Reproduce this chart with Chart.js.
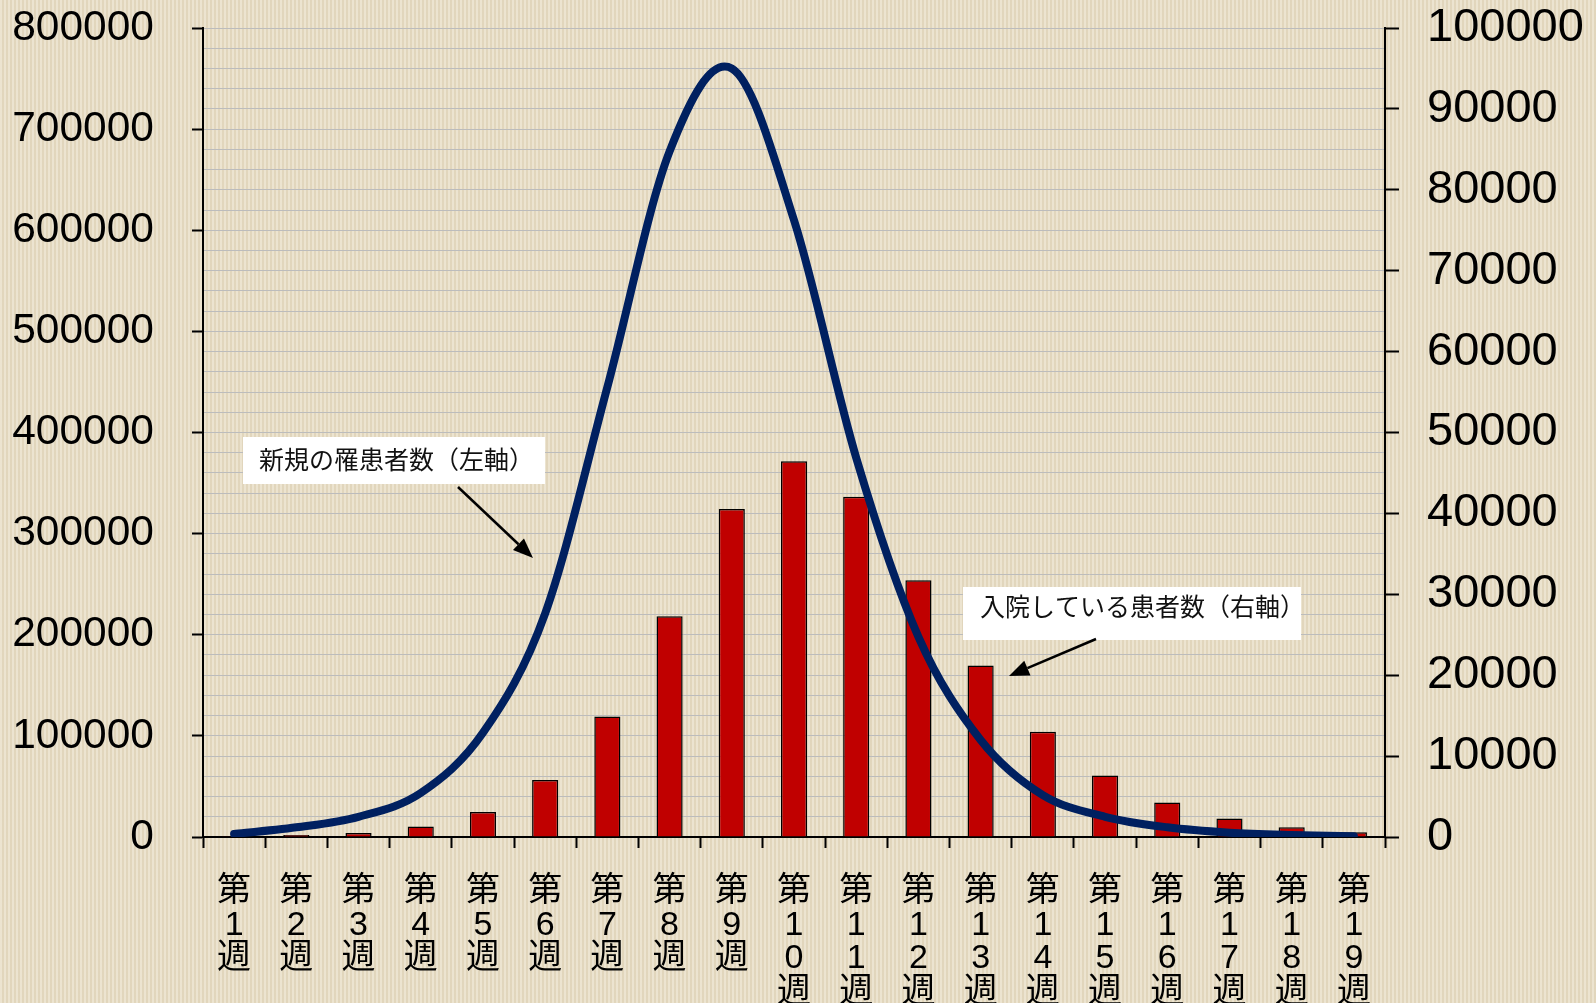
<!DOCTYPE html>
<html lang="ja">
<head>
<meta charset="utf-8">
<title>週別 新規罹患者数と入院患者数</title>
<script src="https://cdn.jsdelivr.net/npm/chart.js@4.4.1/dist/chart.umd.min.js"></script>
<style>
  html, body { margin: 0; padding: 0; }
  body {
    width: 1596px; height: 1003px; overflow: hidden;
    background-color: #e7dcc3;
    background-image:
      repeating-linear-gradient(90deg, rgba(255,255,255,0.22) 0 2px, rgba(120,100,60,0.05) 2px 4px);
  }
  canvas { display: block; }
</style>
</head>
<body>
<canvas id="chart" width="1596" height="1003"></canvas>
<script>
// Week categories
const weeks = ['第1週','第2週','第3週','第4週','第5週','第6週','第7週','第8週','第9週','第10週',
               '第11週','第12週','第13週','第14週','第15週','第16週','第17週','第18週','第19週'];

// New cases per week (left axis)
const newCases = [3000, 9600, 20000, 43500, 103000, 221000, 445000, 678000, 760000, 610000,
                  375000, 198000, 96000, 41500, 20000, 9600, 4300, 2000, 800];

// Hospitalised patients per week (right axis)
const hospitalized = [100, 250, 500, 1300, 3100, 7050, 14900, 27300, 40550, 46450,
                      42050, 31750, 21200, 13000, 7600, 4250, 2300, 1200, 600];

// Axis ranges and tick steps
const leftMax = 800000, leftLabelStep = 100000, leftGridStep = 20000;
const rightMax = 100000, rightStep = 10000;

// Callout labels with their leader arrows
const callouts = [
  { text: '新規の罹患者数（左軸）', box: [243, 437, 302, 47], textAt: [259, 459],
    from: [458, 487], to: [533, 558] },
  { text: '入院している患者数（右軸）', box: [963, 587, 338, 53], textAt: [980, 606],
    from: [1096, 639], to: [1009, 676] }
];

const calloutPlugin = {
  id: 'callouts',
  afterDatasetsDraw(chart) {
    const ctx = chart.ctx;
    callouts.forEach(c => {
      ctx.save();
      ctx.fillStyle = '#ffffff';
      ctx.fillRect(c.box[0], c.box[1], c.box[2], c.box[3]);
      ctx.fillStyle = '#111111';
      ctx.font = '25px "Noto Sans CJK JP", "Noto Sans", sans-serif';
      ctx.textBaseline = 'middle';
      ctx.textAlign = 'left';
      ctx.fillText(c.text, c.textAt[0], c.textAt[1]);

      const [x0, y0] = c.from, [x1, y1] = c.to;
      const ang = Math.atan2(y1 - y0, x1 - x0);
      const headLen = 20, headHalf = 8;
      const bx = x1 - headLen * Math.cos(ang), by = y1 - headLen * Math.sin(ang);
      ctx.strokeStyle = '#000';
      ctx.lineWidth = 2.5;
      ctx.beginPath();
      ctx.moveTo(x0, y0);
      ctx.lineTo(bx, by);
      ctx.stroke();
      ctx.fillStyle = '#000';
      ctx.beginPath();
      ctx.moveTo(x1, y1);
      ctx.lineTo(bx + headHalf * Math.sin(ang), by - headHalf * Math.cos(ang));
      ctx.lineTo(bx - headHalf * Math.sin(ang), by + headHalf * Math.cos(ang));
      ctx.closePath();
      ctx.fill();
      ctx.restore();
    });
  }
};

// Uniform Catmull-Rom style smoothing: each bezier handle is one sixth of the
// neighbour-to-neighbour span, giving the spreadsheet-style smoothed line.
const smoothLinePlugin = {
  id: 'smoothLine',
  beforeDatasetDraw(chart, args) {
    const meta = args.meta;
    if (meta.type !== 'line' || !meta.dataset) return;
    meta.dataset.updateControlPoints(chart.chartArea, meta.iScale.axis);
    const pts = meta.data;
    for (let i = 0; i < pts.length; i++) {
      const p = pts[i];
      const prev = pts[i - 1] || p;
      const next = pts[i + 1] || p;
      const dx = (next.x - prev.x) / 6;
      const dy = (next.y - prev.y) / 6;
      p.cp1x = p.x - dx; p.cp1y = p.y - dy;
      p.cp2x = p.x + dx; p.cp2y = p.y + dy;
    }
  }
};

const numFont = '"Liberation Sans", Arial, sans-serif';

// Fixed axis sizes; drop the label overhang padding so the plot keeps its frame
function fixVertical(width) {
  return scale => {
    scale.width = width;
    scale.paddingTop = 0;
    scale.paddingBottom = 0;
  };
}

new Chart(document.getElementById('chart'), {
  type: 'bar',
  data: {
    labels: weeks.map(w => w.split('')),
    datasets: [
      {
        type: 'line',
        label: '新規の罹患者数（左軸）',
        data: newCases,
        yAxisID: 'y',
        borderColor: '#002060',
        borderWidth: 8,
        borderCapStyle: 'round',
        borderJoinStyle: 'round',
        pointRadius: 0,
        tension: 0.4,
        fill: false,
        order: 0
      },
      {
        type: 'bar',
        label: '入院している患者数（右軸）',
        data: hospitalized,
        yAxisID: 'y1',
        backgroundColor: '#c00000',
        borderColor: '#000000',
        borderWidth: 1.5,
        barPercentage: 0.42,
        categoryPercentage: 1.0,
        order: 1
      }
    ]
  },
  options: {
    responsive: false,
    animation: false,
    devicePixelRatio: 1,
    layout: { padding: { top: 28, left: 0, right: 0, bottom: 0 } },
    plugins: { legend: { display: false }, tooltip: { enabled: false } },
    scales: {
      x: {
        offset: true,
        grid: {
          offset: true,
          drawOnChartArea: false,
          tickLength: 11,
          tickColor: '#000',
          tickWidth: 2
        },
        border: { color: '#000', width: 2 },
        ticks: {
          color: '#000',
          font: { size: 34, family: '"Liberation Sans", "Noto Sans CJK JP", sans-serif', lineHeight: 33.5 / 34 },
          padding: 27,
          maxRotation: 0,
          minRotation: 0,
          autoSkip: false
        },
        afterFit(scale) {
          scale.height = 166;
          scale.paddingLeft = 0;
          scale.paddingRight = 0;
        }
      },
      y: {
        position: 'left',
        min: 0,
        max: leftMax,
        grid: {
          color: ctx => (ctx.tick && ctx.tick.value === 0) ? 'rgba(0,0,0,0)' : '#bcbcbc',
          lineWidth: 1,
          tickLength: 11,
          tickWidth: 2,
          tickColor: ctx => (ctx.tick && ctx.tick.value % leftLabelStep === 0) ? '#000' : 'rgba(0,0,0,0)'
        },
        border: { color: '#000', width: 2 },
        ticks: {
          stepSize: leftGridStep,
          maxTicksLimit: 100,
          autoSkip: false,
          color: '#000',
          padding: 38,
          font: { size: 42.5, family: numFont },
          callback: v => (v % leftLabelStep === 0) ? String(v) : ''
        },
        afterFit: fixVertical(203)
      },
      y1: {
        position: 'right',
        min: 0,
        max: rightMax,
        grid: {
          drawOnChartArea: false,
          tickLength: 14,
          tickWidth: 2,
          tickColor: '#000'
        },
        border: { color: '#000', width: 2 },
        ticks: {
          stepSize: rightStep,
          autoSkip: false,
          color: '#000',
          padding: 28,
          font: { size: 47, family: numFont },
          callback: v => String(v)
        },
        afterFit: fixVertical(211)
      }
    }
  },
  plugins: [smoothLinePlugin, calloutPlugin]
});
</script>
</body>
</html>
